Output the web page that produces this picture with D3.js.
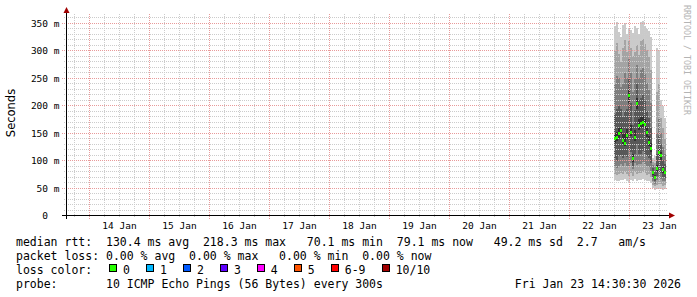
<!DOCTYPE html>
<html><head><meta charset="utf-8">
<script src="https://cdn.jsdelivr.net/npm/d3@7/dist/d3.min.js"></script>
<style>html,body{margin:0;padding:0;background:#fff;} svg{display:block;}</style>
</head><body><svg id="c" width="697" height="297"></svg>
<script>
// ---- data (ms) ----
const times = ["2026-01-22T18:00","2026-01-22T18:48","2026-01-22T19:36","2026-01-22T20:24","2026-01-22T21:12","2026-01-22T22:00","2026-01-22T22:48","2026-01-22T23:36","2026-01-23T00:24","2026-01-23T01:12","2026-01-23T02:00","2026-01-23T02:48","2026-01-23T03:36","2026-01-23T04:24","2026-01-23T05:12","2026-01-23T06:00","2026-01-23T06:48","2026-01-23T07:36","2026-01-23T08:24","2026-01-23T09:12","2026-01-23T10:00","2026-01-23T10:48","2026-01-23T11:36","2026-01-23T12:24","2026-01-23T13:12","2026-01-23T14:00"];
const ping1  = [64,62,63,65,64,66,63,60,65,62,66,63,65,64,66,64,62,63,60,50,47,48,50,49,47,48];
const ping2  = [76,73,75,78,76,80,75,72,78,72,80,75,78,77,80,77,74,75,70,56,53,56,58,57,54,55];
const ping3  = [90,86,90,93,90,95,90,90,95,84,96,92,94,93,98,94,90,88,82,62,58,64,68,66,62,62];
const ping4  = [104,100,108,110,105,110,106,120,115,90,112,130,112,112,118,112,108,104,96,68,63,72,80,78,70,68];
const ping5  = [132,135,142,148,130,126,140,205,145,98,136,195,155,160,162,158,143,126,116,74,68,80,108,102,78,75];
const ping6  = [150,152,160,162,148,150,158,228,165,112,155,215,175,180,182,175,160,145,132,80,74,92,122,115,88,82];
const ping7  = [185,195,200,195,180,190,195,250,205,165,192,240,210,215,220,208,190,178,160,86,80,112,145,130,102,94];
const ping8  = [240,255,250,235,240,260,250,285,260,225,248,275,250,265,268,258,242,228,205,92,88,150,175,150,125,112];
const ping9  = [300,315,295,280,305,320,298,318,305,290,298,310,292,318,322,312,302,288,265,98,96,225,240,178,160,140];
const ping10 = [345,352,335,325,348,350,330,342,338,332,346,342,330,352,354,346,340,336,325,105,108,305,300,210,200,178];
const median = [140,142,150,155,137,131,146,218.3,151,104,142,204,164,168,170,166,151,133,122,78,70.1,86,115,109,84,79.1];
const yTicks = [0,50,100,150,200,250,300,350];
const dayLabels = ["14 Jan","15 Jan","16 Jan","17 Jan","18 Jan","19 Jan","20 Jan","21 Jan","22 Jan","23 Jan"];
const lossLabels = ["0","1","2","3","4","5","6-9","10/10"];
const lossColors = ["#26ff00","#00b8ff","#0059ff","#5e00ff","#ff00ff","#ff5500","#ff0000","#a10000"];
const smokeColors = ["#cacaca","#a4a4a4","#7e7e7e","#585858","#323232"];
const legendRow1 = "median rtt:  130.4 ms avg  218.3 ms max   70.1 ms min  79.1 ms now   49.2 ms sd  2.7   am/s";
const legendRow2 = "packet loss: 0.00 % avg  0.00 % max   0.00 % min  0.00 % now";
const legendRow3 = "loss color:";
const legendRow4 = "probe:       10 ICMP Echo Pings (56 Bytes) every 300s";
const stampText = "Fri Jan 23 14:30:30 2026";
const yTitle = "Seconds";
const watermark = "RRDTOOL / TOBI OETIKER";

// ---- drawing ----
const svg = d3.select("#c");
const MONO = "'DejaVu Sans Mono', monospace";
const nb = s => s.replace(/ /g, "\u00A0");
const parse = s => new Date(s + ":00Z");
const step = 48 * 60 * 1000;
const x = d3.scaleUtc().domain([new Date(Date.UTC(2026,0,13,14,48)), new Date(Date.UTC(2026,0,23,14,48))]).range([66.5, 666.5]);
const y = d3.scaleLinear().domain([0, 368.2]).range([215.5, 13.5]);
const pings = [ping1,ping2,ping3,ping4,ping5,ping6,ping7,ping8,ping9,ping10];
const px = v => Math.round(v - 0.5);

svg.append("rect").attr("width",697).attr("height",297).attr("fill","#fff");

// smoke
const gS = svg.append("g").attr("shape-rendering","crispEdges");
for (let k = 0; k < 5; k++) {
  const lo = pings[k], hi = pings[9-k];
  gS.selectAll(null).data(times).enter().append("rect")
    .attr("x", d => px(x(parse(d))))
    .attr("width", d => px(x(new Date(+parse(d)+step))) - px(x(parse(d))))
    .attr("y", (d,i) => Math.round(y(hi[i])))
    .attr("height", (d,i) => Math.round(y(lo[i])) - Math.round(y(hi[i])))
    .attr("fill", smokeColors[k]);
}

// grid
const gG = svg.append("g").attr("shape-rendering","crispEdges").attr("stroke-width",1);
const dom = x.domain();
const minorX = d3.utcHour.every(6).range(dom[0], dom[1]).filter(d => d.getUTCHours() !== 0);
const majorX = d3.utcDay.range(dom[0], dom[1]);
gG.selectAll(null).data(minorX).enter().append("line")
  .attr("x1", d => Math.floor(x(d))+0.5).attr("x2", d => Math.floor(x(d))+0.5)
  .attr("y1", 217).attr("y2", 13).attr("stroke","#cccccc").attr("stroke-dasharray","1,1");
const minorY = d3.range(10, 370, 10).filter(v => v % 50 !== 0);
gG.selectAll(null).data(minorY).enter().append("line")
  .attr("y1", d => Math.floor(y(d))+0.5).attr("y2", d => Math.floor(y(d))+0.5)
  .attr("x1", 64).attr("x2", 667).attr("stroke","#cccccc").attr("stroke-dasharray","1,1");
gG.selectAll(null).data(majorX).enter().append("line")
  .attr("x1", d => Math.floor(x(d))+0.5).attr("x2", d => Math.floor(x(d))+0.5)
  .attr("y1", 219).attr("y2", 13).attr("stroke","#e89a9a").attr("stroke-dasharray","1,1");
gG.selectAll(null).data(yTicks.filter(v=>v>0)).enter().append("line")
  .attr("y1", d => Math.floor(y(d))+0.5).attr("y2", d => Math.floor(y(d))+0.5)
  .attr("x1", 62).attr("x2", 667).attr("stroke","#e89a9a").attr("stroke-dasharray","1,1");

// medians
svg.append("g").attr("shape-rendering","crispEdges").selectAll(null).data(times).enter().append("rect")
  .attr("x", d => px(x(parse(d))))
  .attr("width", 2)
  .attr("y", (d,i) => Math.round(y(median[i]) - 1.5))
  .attr("height", 3)
  .attr("fill", lossColors[0]);

// axes
const gA = svg.append("g");
gA.append("line").attr("x1",66.5).attr("x2",66.5).attr("y1",219).attr("y2",12).attr("stroke","#000").attr("shape-rendering","crispEdges");
gA.append("line").attr("x1",62).attr("x2",670).attr("y1",215.5).attr("y2",215.5).attr("stroke","#000").attr("shape-rendering","crispEdges");
gA.append("polygon").attr("points","63.5,13 69.5,13 66.5,7").attr("fill","#a00000");
gA.append("polygon").attr("points","669,212.5 669,218.5 675,215.5").attr("fill","#a00000");

// tick labels
svg.append("g").selectAll(null).data(yTicks).enter().append("text")
  .attr("x", 59.5).attr("y", d => y(d) + 3.5)
  .attr("text-anchor","end")
  .attr("font-family", MONO).attr("font-size","9.5px").attr("fill","#000")
  .text(d => nb(d === 0 ? "0  " : d + " m"));
svg.append("g").selectAll(null).data(dayLabels).enter().append("text")
  .attr("x", (d,i) => x(new Date(Date.UTC(2026,0,14+i,12))))
  .attr("y", 228.5).attr("text-anchor","middle")
  .attr("font-family", MONO).attr("font-size","9.5px").attr("fill","#000")
  .text(d => nb(d));

// y title
svg.append("text").attr("transform","translate(15,113) rotate(-90)")
  .attr("text-anchor","middle").attr("font-family","'DejaVu Sans', sans-serif")
  .attr("font-size","11.5px").attr("fill","#000").text(yTitle);

// watermark
svg.append("text").attr("transform","translate(683.5,5) rotate(90)")
  .attr("font-family", MONO).attr("font-size","8.3px").attr("fill","#b4b4b4").text(nb(watermark));

// legend
const LF = "11.5px";
const cw = 6.96;
const leg = svg.append("g").attr("font-family", MONO).attr("font-size", LF).attr("fill","#000");
leg.append("text").attr("x",16).attr("y",245.5).text(nb(legendRow1));
leg.append("text").attr("x",16).attr("y",259.5).text(nb(legendRow2));
leg.append("text").attr("x",16).attr("y",273.5).text(nb(legendRow3));
leg.append("text").attr("x",16).attr("y",287.5).text(nb(legendRow4));
leg.append("text").attr("x",681).attr("y",287.5).attr("text-anchor","end").text(nb(stampText));
let bx = 109;
lossLabels.forEach((lab, i) => {
  leg.append("rect").attr("x", Math.round(bx)+0.5).attr("y",264.5).attr("width",7).attr("height",7)
    .attr("fill", lossColors[i]).attr("stroke","#000").attr("stroke-width",1).attr("shape-rendering","crispEdges");
  leg.append("text").attr("x", bx + 14).attr("y", 273.5).text(lab);
  bx = bx + 14 + lab.length * cw + 16;
});
</script></body></html>
